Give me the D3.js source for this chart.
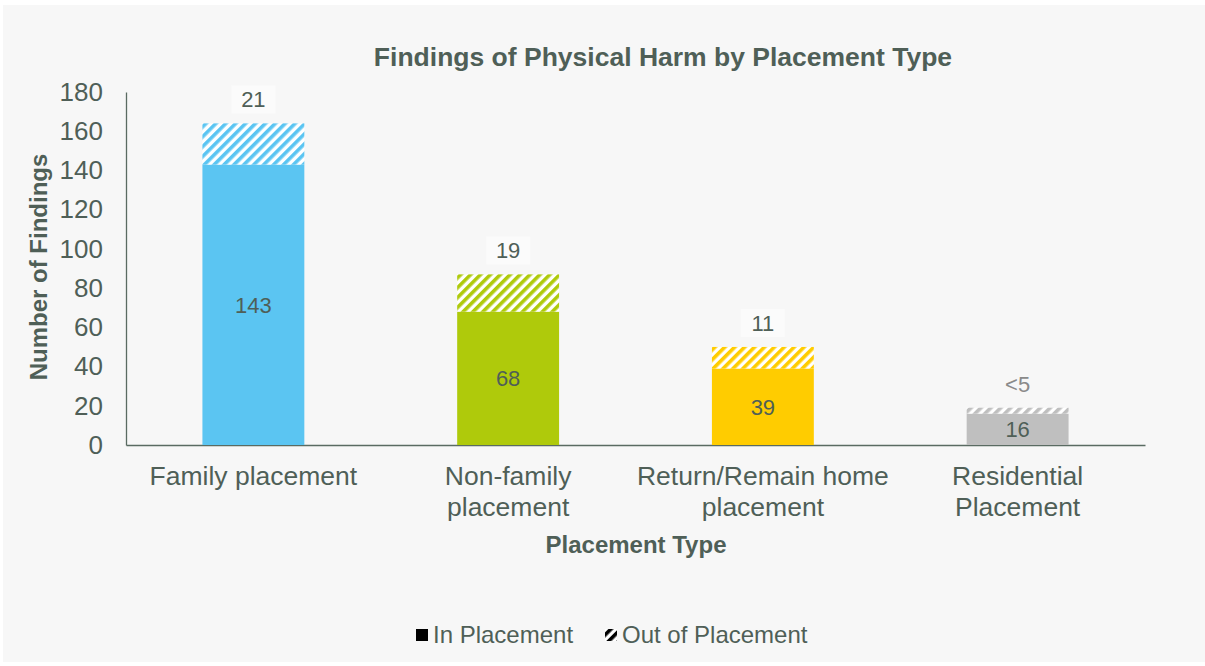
<!DOCTYPE html>
<html>
<head>
<meta charset="utf-8">
<script src="https://cdn.jsdelivr.net/npm/d3@7"></script>
<style>
  body { margin: 0; background: #fff; }
  svg { display: block; font-family: 'Liberation Sans', Arial, sans-serif; }
</style>
</head>
<body>
<div class="chart"></div>
<script>
// data
var categories = [['Family placement'], ['Non-family', 'placement'], ['Return/Remain home', 'placement'], ['Residential', 'Placement']];
var inPlacement = [143, 68, 39, 16];
var outPlacement = [21, 19, 11, 3];
var outLabels = ['21', '19', '11', '<5'];
var colors = ['#5bc5f2', '#afca0b', '#ffcc00', '#bfbfbf'];
var yTicks = [0, 20, 40, 60, 80, 100, 120, 140, 160, 180];

var W = 1205, H = 666;
var margin = { top: 92, right: 60, bottom: 221, left: 126 };
var width = W - margin.left - margin.right;
var height = H - margin.top - margin.bottom;
var textCol = '#4f5f57';

var root = d3.select('.chart').append('svg')
  .attr('width', W).attr('height', H);

root.append('rect')
  .attr('x', 3).attr('y', 5).attr('width', W - 3).attr('height', H - 9)
  .style('fill', '#f7f7f7');

// hatch patterns, one per colour
var defs = root.append('defs');
colors.concat(['#000']).forEach(function (c, i) {
  var p = defs.append('pattern')
    .attr('id', 'hatch' + i)
    .attr('patternUnits', 'userSpaceOnUse')
    .attr('width', 7).attr('height', 7)
    .attr('patternTransform', 'rotate(45)');
  p.append('rect').attr('width', 7).attr('height', 7).style('fill', '#fff');
  p.append('rect').attr('width', 3.6).attr('height', 7).style('fill', c);
});

var svg = root.append('g')
  .attr('transform', 'translate(' + margin.left + ',' + margin.top + ')');

var xScale = d3.scaleBand()
  .domain(d3.range(categories.length))
  .range([0, width])
  .paddingInner(0.6)
  .paddingOuter(0.3);

var yScale = d3.scaleLinear()
  .domain([0, 180])
  .range([height, 0]);

// y axis
var yAxis = svg.append('g').call(d3.axisLeft(yScale).tickValues(yTicks).tickSize(0).tickPadding(23));
yAxis.select('.domain').style('stroke', '#5a6b62').style('stroke-width', 1.3);
yAxis.selectAll('text')
  .style('font-size', '26px').style('fill', textCol)
  .style('font-family', "'Liberation Sans', Arial, sans-serif");

// x axis
var xAxis = svg.append('g')
  .attr('transform', 'translate(0,' + height + ')')
  .call(d3.axisBottom(xScale).tickSize(0).tickFormat(''));
xAxis.select('.domain').style('stroke', '#5a6b62').style('stroke-width', 1.3);

xAxis.selectAll('.tick').each(function (d) {
  var t = d3.select(this).append('text')
    .attr('text-anchor', 'middle')
    .style('font-size', '26.5px')
    .style('fill', textCol);
  categories[d].forEach(function (line, j) {
    t.append('tspan').attr('x', 0).attr('y', 40 + j * 31).text(line);
  });
});

var bw = xScale.bandwidth();

// solid part
svg.selectAll('.inbar')
  .data(inPlacement)
  .enter().append('rect')
  .attr('class', 'inbar')
  .attr('x', (d, i) => xScale(i))
  .attr('width', bw)
  .attr('y', d => yScale(d))
  .attr('height', d => height - yScale(d))
  .style('fill', (d, i) => colors[i]);

// hatched part
svg.selectAll('.outbar')
  .data(outPlacement)
  .enter().append('rect')
  .attr('class', 'outbar')
  .attr('x', (d, i) => xScale(i))
  .attr('width', bw)
  .attr('y', (d, i) => yScale(inPlacement[i] + d))
  .attr('height', (d, i) => yScale(inPlacement[i]) - yScale(inPlacement[i] + d))
  .style('fill', (d, i) => 'url(#hatch' + i + ')');

// inner labels
svg.selectAll('.inlabel')
  .data(inPlacement)
  .enter().append('text')
  .attr('x', (d, i) => xScale(i) + bw / 2)
  .attr('y', d => (yScale(d) + height) / 2 + 8)
  .attr('text-anchor', 'middle')
  .style('font-size', '22px')
  .style('fill', textCol)
  .text(d => d);

// top labels with light boxes
outPlacement.forEach(function (d, i) {
  var cx = xScale(i) + bw / 2;
  var top = yScale(inPlacement[i] + d);
  if (i < 3) {
    svg.append('rect')
      .attr('x', cx - 22).attr('y', top - 38)
      .attr('width', 44).attr('height', 28)
      .style('fill', '#fbfbfb');
  }
  svg.append('text')
    .attr('x', cx)
    .attr('y', top - 16)
    .attr('text-anchor', 'middle')
    .style('font-size', '22px')
    .style('fill', i < 3 ? textCol : '#8a8a8a')
    .text(outLabels[i]);
});

// titles
root.append('text')
  .attr('x', 663).attr('y', 66)
  .attr('text-anchor', 'middle')
  .style('font-size', '26.5px').style('font-weight', 'bold')
  .style('fill', textCol)
  .text('Findings of Physical Harm by Placement Type');

root.append('text')
  .attr('x', 636).attr('y', 553)
  .attr('text-anchor', 'middle')
  .style('font-size', '24px').style('font-weight', 'bold')
  .style('fill', textCol)
  .text('Placement Type');

root.append('text')
  .attr('transform', 'translate(47,267) rotate(-90)')
  .attr('text-anchor', 'middle')
  .style('font-size', '24px').style('font-weight', 'bold')
  .style('fill', textCol)
  .text('Number of Findings');

// legend
var legend = root.append('g');
legend.append('rect').attr('x', 416).attr('y', 629).attr('width', 12).attr('height', 12).style('fill', '#000');
legend.append('text').attr('x', 433).attr('y', 643).style('font-size', '24px').style('fill', textCol).text('In Placement');
legend.append('rect').attr('x', 605).attr('y', 629).attr('width', 12).attr('height', 12).style('fill', 'url(#hatch4)');
legend.append('text').attr('x', 622).attr('y', 643).style('font-size', '24px').style('fill', textCol).text('Out of Placement');
</script>
</body>
</html>
